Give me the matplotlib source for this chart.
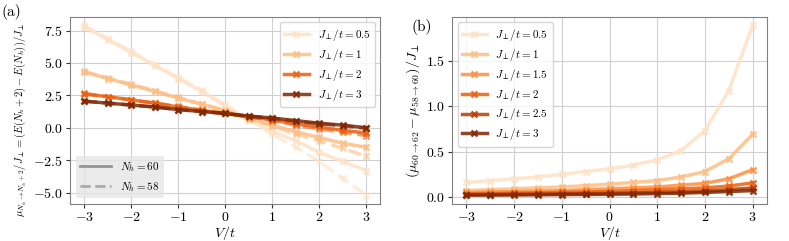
import numpy as np
import matplotlib
matplotlib.use("Agg")
import matplotlib.pyplot as plt
from matplotlib.lines import Line2D

plt.rcParams['font.family'] = 'serif'
plt.rcParams['font.serif'] = ['cmr10', 'DejaVu Serif']
plt.rcParams['mathtext.fontset'] = 'cm'
plt.rcParams['axes.formatter.use_mathtext'] = True
plt.rcParams['font.size'] = 10

V = [-3, -2.5, -2, -1.5, -1, -0.5, 0, 0.5, 1, 1.5, 2, 2.5, 3]

# panel (a): chemical potential, N_h = 60 (solid) and N_h = 58 (dashed)
J_a = [0.5, 1, 2, 3]
mu60 = {
    0.5: [7.8, 6.8, 5.8, 4.8, 3.8, 2.8, 1.65, 0.6, -0.3, -1.0, -1.9, -2.6, -3.3],
    1:   [4.3, 3.8, 3.3, 2.8, 2.3, 1.8, 1.3, 0.7, 0.2, -0.3, -0.75, -1.2, -1.5],
    2:   [2.6, 2.4, 2.15, 1.9, 1.6, 1.35, 1.1, 0.85, 0.6, 0.3, 0.05, -0.2, -0.4],
    3:   [2.05, 1.9, 1.75, 1.6, 1.4, 1.25, 1.1, 0.9, 0.75, 0.55, 0.35, 0.2, 0.0],
}
mu58 = {
    0.5: [7.9, 6.9, 5.9, 4.9, 3.9, 2.9, 1.8, 0.6, -0.5, -1.5, -2.6, -3.9, -5.2],
    1:   [4.35, 3.85, 3.35, 2.85, 2.35, 1.85, 1.35, 0.7, 0.1, -0.5, -1.0, -1.6, -2.2],
    2:   [2.65, 2.4, 2.15, 1.9, 1.65, 1.35, 1.1, 0.85, 0.55, 0.2, -0.1, -0.35, -0.6],
    3:   [2.05, 1.9, 1.75, 1.6, 1.4, 1.25, 1.1, 0.9, 0.75, 0.5, 0.3, 0.15, -0.05],
}

# panel (b): difference of chemical potentials
J_b = [0.5, 1, 1.5, 2, 2.5, 3]
dmu = {
    0.5: [0.16, 0.18, 0.2, 0.22, 0.25, 0.28, 0.31, 0.35, 0.41, 0.51, 0.73, 1.17, 1.89],
    1:   [0.07, 0.08, 0.09, 0.1, 0.11, 0.125, 0.14, 0.16, 0.18, 0.22, 0.28, 0.42, 0.69],
    1.5: [0.05, 0.055, 0.06, 0.065, 0.07, 0.08, 0.09, 0.1, 0.11, 0.13, 0.15, 0.2, 0.3],
    2:   [0.035, 0.038, 0.042, 0.046, 0.05, 0.055, 0.06, 0.07, 0.08, 0.09, 0.1, 0.12, 0.155],
    2.5: [0.025, 0.027, 0.03, 0.032, 0.035, 0.038, 0.04, 0.045, 0.05, 0.055, 0.065, 0.08, 0.1],
    3:   [0.02, 0.021, 0.022, 0.024, 0.026, 0.028, 0.03, 0.033, 0.037, 0.042, 0.05, 0.06, 0.07],
}

cmap = plt.get_cmap('Oranges')
colors = dict(zip(J_b, cmap(np.linspace(0.15, 1.0, len(J_b)))))

fig = plt.figure(figsize=(7.89, 2.41), dpi=100)
ax1 = fig.add_axes([0.089, 0.155, 0.393, 0.775])
ax2 = fig.add_axes([0.573, 0.155, 0.399, 0.775])

for ax in (ax1, ax2):
    ax.grid(True, color='#d0d0d0', linewidth=0.8)
    ax.set_axisbelow(True)
    for s in ax.spines.values():
        s.set_color('#808080')
    ax.tick_params(colors='#333333', labelcolor='black', length=3, pad=2)
    ax.set_xticks([-3, -2, -1, 0, 1, 2, 3])
    ax.set_xlabel(r'$V/t$', labelpad=0)

for J in J_a:
    ax1.plot(V, mu60[J], '-x', color=colors[J], lw=2.5, ms=5, mew=1.8,
             alpha=0.85, label=r'$J_\perp/t=$' + f'{J:g}')
    ax1.plot(V, mu58[J], '--x', color=colors[J], lw=2.5, ms=5, mew=1.8, alpha=0.6)

leg1 = ax1.legend(loc='upper right', fontsize=8, handlelength=2.2,
                  labelspacing=0.35, borderpad=0.4)
ax1.add_artist(leg1)
handles = [Line2D([], [], color='gray', lw=2, ls='-', alpha=0.8),
           Line2D([], [], color='gray', lw=2, ls='--', alpha=0.6)]
ax1.legend(handles, [r'$N_h=60$', r'$N_h=58$'], loc='lower left', fontsize=8,
           facecolor='#e6e6e6', edgecolor='none', framealpha=0.8, handlelength=2.8)
ax1.set_yticks([-5, -2.5, 0, 2.5, 5, 7.5])
ax1.set_ylabel(r'$\mu_{N_h\to N_h+2}/J_\perp=(E(N_h+2)-E(N_h))/J_\perp$',
               fontsize=7.6, labelpad=1)
ax1.yaxis.set_label_coords(-0.135, 0.45)

for J in J_b:
    ax2.plot(V, dmu[J], '-x', color=colors[J], lw=2.5, ms=5, mew=1.8,
             alpha=0.85, label=r'$J_\perp/t=$' + f'{J:g}')
ax2.legend(loc='upper left', fontsize=8, handlelength=2.2,
           labelspacing=0.35, borderpad=0.4)
ax2.set_yticks([0, 0.5, 1.0, 1.5])
ax2.set_ylabel(r'$(\mu_{60\to 62}-\mu_{58\to 60})/J_\perp$', fontsize=10, labelpad=3)

fig.text(0.002, 0.935, '(a)', fontsize=11)
fig.text(0.522, 0.87, '(b)', fontsize=11)

fig.savefig('out.png', dpi=100)
